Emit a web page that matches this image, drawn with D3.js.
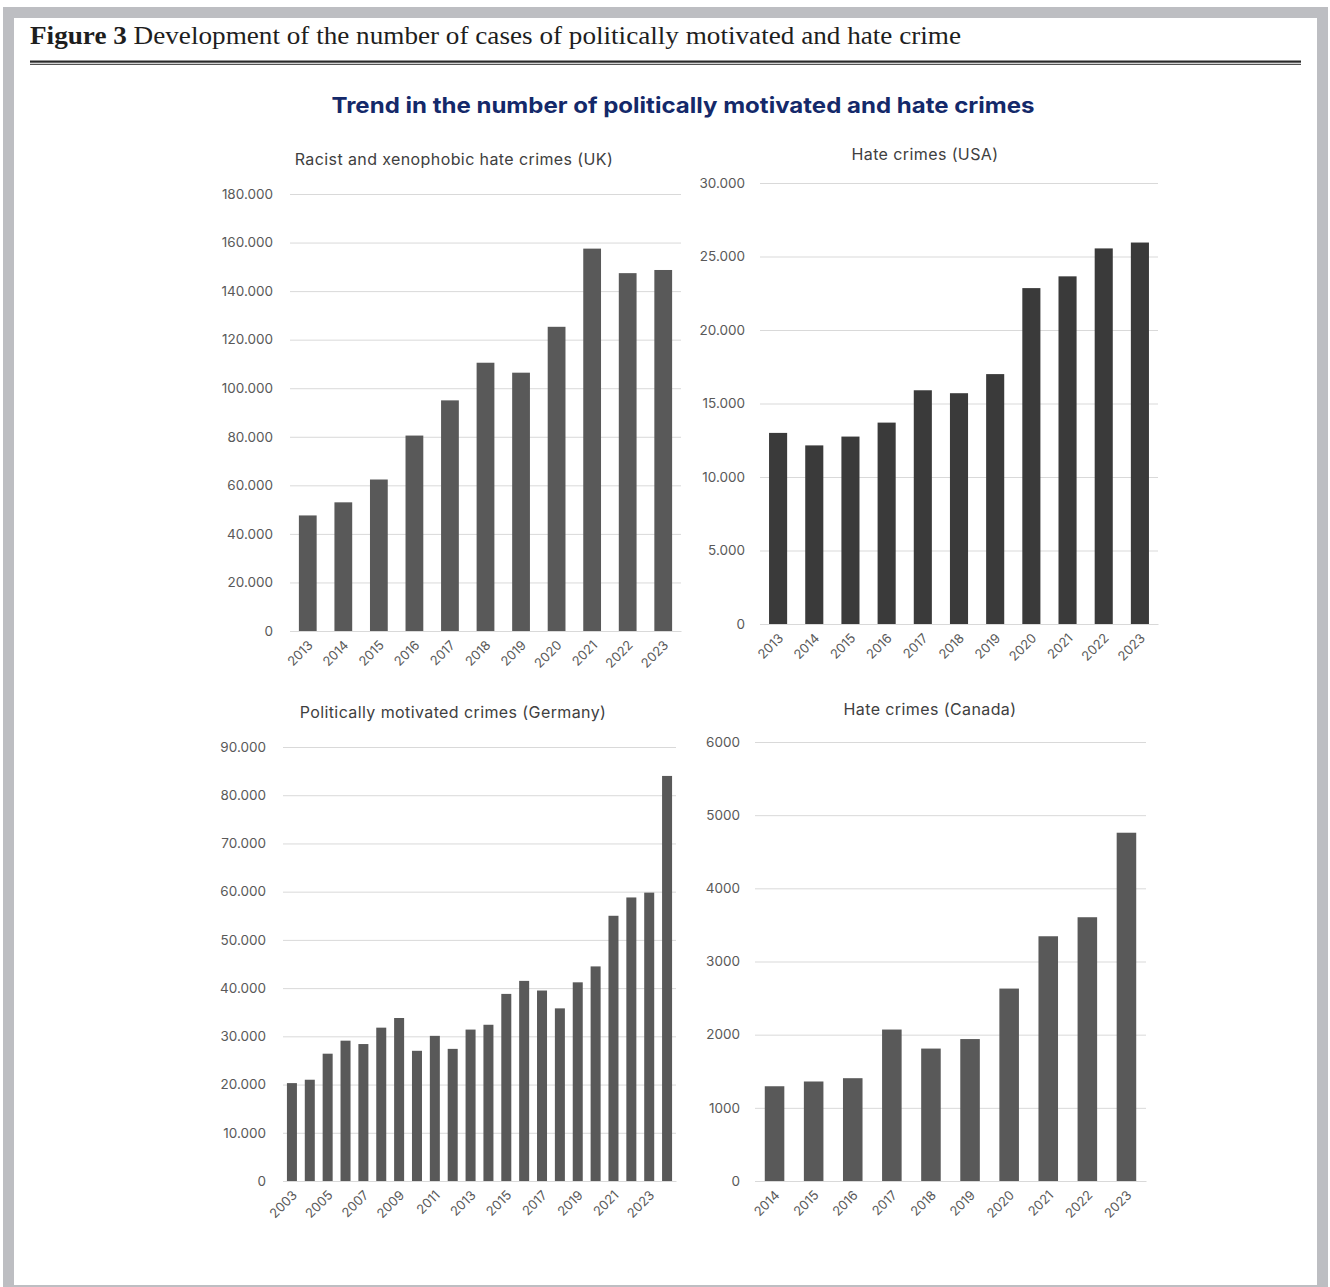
<!DOCTYPE html>
<html>
<head>
<meta charset="utf-8">
<script src="https://cdn.jsdelivr.net/npm/d3@7"></script>
<style>
  html, body { margin: 0; padding: 0; background: #ffffff; }
  svg { display: block; }
</style>
</head>
<body>
<svg id="fig" width="1330" height="1287"></svg>
<script>
// ---- data ----
const ukYears = ["2013","2014","2015","2016","2017","2018","2019","2020","2021","2022","2023"];
const ukValues = [47600, 53000, 62400, 80500, 95000, 110500, 106400, 125300, 157500, 147400, 148700];
const ukTicks = [0, 20000, 40000, 60000, 80000, 100000, 120000, 140000, 160000, 180000];

const usaYears = ["2013","2014","2015","2016","2017","2018","2019","2020","2021","2022","2023"];
const usaValues = [13000, 12150, 12750, 13700, 15900, 15700, 17000, 22850, 23650, 25550, 25950];
const usaTicks = [0, 5000, 10000, 15000, 20000, 25000, 30000];

const deYears = ["2003","2004","2005","2006","2007","2008","2009","2010","2011","2012","2013",
                 "2014","2015","2016","2017","2018","2019","2020","2021","2022","2023","2024"];
const deValues = [20300, 21000, 26400, 29100, 28400, 31800, 33800, 27000, 30100, 27400, 31400,
                  32400, 38800, 41500, 39500, 35800, 41200, 44500, 55000, 58800, 59800, 84000];
const deTicks = [0, 10000, 20000, 30000, 40000, 50000, 60000, 70000, 80000, 90000];
const deLabelYears = ["2003","2005","2007","2009","2011","2013","2015","2017","2019","2021","2023"];

const caYears = ["2014","2015","2016","2017","2018","2019","2020","2021","2022","2023"];
const caValues = [1295, 1360, 1405, 2070, 1810, 1940, 2630, 3345, 3605, 4760];
const caTicks = [0, 1000, 2000, 3000, 4000, 5000, 6000];

// ---- formats ----
const dotLocale = d3.formatLocale({ decimal: ",", thousands: ".", grouping: [3], currency: ["", ""] });
const fmtDot = dotLocale.format(",");
const fmtPlain = d3.format("d");

const svg = d3.select("#fig");
const W = 1330, H = 1287;
const chartFont = "Inter, 'Noto Sans', sans-serif";

// ---- outer frame ----
svg.append("rect").attr("x", 0).attr("y", 0).attr("width", W).attr("height", H).attr("fill", "#ffffff");
svg.append("rect").attr("x", 3).attr("y", 7).attr("width", 1325).attr("height", 1280).attr("fill", "#bdbec2");
svg.append("rect").attr("x", 14).attr("y", 18).attr("width", 1303).attr("height", 1267).attr("fill", "#ffffff");

// ---- figure caption ----
const cap = svg.append("text")
  .attr("x", 30).attr("y", 44)
  .attr("font-family", "'Liberation Serif', 'DejaVu Serif', serif")
  .attr("font-size", 24.5)
  .attr("fill", "#1e1e1e")
  .attr("textLength", 931)
  .attr("lengthAdjust", "spacingAndGlyphs");
cap.append("tspan").attr("font-weight", "bold").text("Figure 3");
cap.append("tspan").text(" Development of the number of cases of politically motivated and hate crime");

svg.append("rect").attr("x", 30).attr("y", 60.5).attr("width", 1271).attr("height", 2.2).attr("fill", "#2a2a2a");
svg.append("rect").attr("x", 30).attr("y", 63.8).attr("width", 1271).attr("height", 1).attr("fill", "#2a2a2a");

// ---- overall heading ----
svg.append("text")
  .attr("x", 683).attr("y", 113)
  .attr("text-anchor", "middle")
  .attr("font-family", "Inter, 'Open Sans', sans-serif")
  .attr("font-weight", "bold")
  .attr("font-size", 21.5)
  .attr("fill", "#14296a")
  .attr("textLength", 703)
  .attr("lengthAdjust", "spacingAndGlyphs")
  .text("Trend in the number of politically motivated and hate crimes");

// ---- one bar-chart panel ----
function drawPanel(cfg) {
  const g = svg.append("g");

  const x = d3.scaleBand()
    .domain(cfg.years)
    .range([cfg.x0, cfg.x1])
    .paddingInner(cfg.pad)
    .paddingOuter(cfg.pad / 2);

  const y = d3.scaleLinear()
    .domain([0, d3.max(cfg.ticks)])
    .range([cfg.yBottom, cfg.yTop]);

  // gridlines + value labels
  const yAxis = g.append("g")
    .attr("transform", `translate(${cfg.x0},0)`)
    .call(d3.axisLeft(y)
      .tickValues(cfg.ticks)
      .tickFormat(cfg.fmt)
      .tickSize(-(cfg.x1 - cfg.x0))
      .tickPadding(cfg.labelGap));
  yAxis.select(".domain").remove();
  yAxis.selectAll(".tick line").attr("stroke", "#d9d9d9").attr("stroke-width", 1);
  yAxis.selectAll(".tick text")
    .attr("font-family", chartFont)
    .attr("font-size", 13.5)
    .attr("fill", "#595959");

  // bars
  g.append("g").selectAll("rect")
    .data(cfg.values)
    .join("rect")
    .attr("x", (d, i) => x(cfg.years[i]))
    .attr("y", d => y(d))
    .attr("width", x.bandwidth())
    .attr("height", d => y(0) - y(d))
    .attr("fill", cfg.color);

  // category axis
  const xAxis = g.append("g")
    .attr("transform", `translate(0,${cfg.yBottom})`)
    .call(d3.axisBottom(x)
      .tickValues(cfg.labelYears || cfg.years)
      .tickSize(0)
      .tickPadding(0));
  xAxis.select(".domain").attr("stroke", "#d9d9d9").attr("stroke-width", 1);
  xAxis.selectAll(".tick text")
    .attr("font-family", chartFont)
    .attr("font-size", 13)
    .attr("fill", "#595959")
    .attr("text-anchor", "end")
    .attr("dy", 0)
    .attr("y", 0)
    .attr("transform", "translate(6,15) rotate(-45)");

  // panel title
  g.append("text")
    .attr("x", cfg.titleX).attr("y", cfg.titleY)
    .attr("text-anchor", "middle")
    .attr("font-family", chartFont)
    .attr("font-size", 16)
    .attr("letter-spacing", 0.4)
    .attr("fill", "#404040")
    .text(cfg.title);
}

drawPanel({
  title: "Racist and xenophobic hate crimes (UK)", titleX: 454, titleY: 165,
  years: ukYears, values: ukValues, ticks: ukTicks, fmt: fmtDot,
  x0: 290, x1: 681, yTop: 194, yBottom: 631, pad: 0.5, labelGap: 17, color: "#595959"
});

drawPanel({
  title: "Hate crimes (USA)", titleX: 925, titleY: 160,
  years: usaYears, values: usaValues, ticks: usaTicks, fmt: fmtDot,
  x0: 760, x1: 1158, yTop: 183, yBottom: 624, pad: 0.5, labelGap: 15, color: "#3a3a3a"
});

drawPanel({
  title: "Politically motivated crimes (Germany)", titleX: 453, titleY: 718,
  years: deYears, values: deValues, ticks: deTicks, fmt: fmtDot, labelYears: deLabelYears,
  x0: 283, x1: 676, yTop: 747, yBottom: 1181, pad: 0.44, labelGap: 17, color: "#595959"
});

drawPanel({
  title: "Hate crimes (Canada)", titleX: 930, titleY: 715,
  years: caYears, values: caValues, ticks: caTicks, fmt: fmtPlain,
  x0: 755, x1: 1146, yTop: 742, yBottom: 1181, pad: 0.5, labelGap: 15, color: "#595959"
});
</script>
</body>
</html>
